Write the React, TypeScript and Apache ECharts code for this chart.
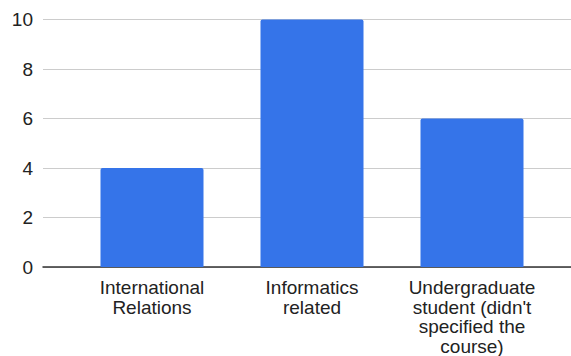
import React, { useEffect, useRef } from "react";
import * as echarts from "echarts";

const categories = [
  "International\nRelations",
  "Informatics\nrelated",
  "Undergraduate\nstudent (didn't\nspecified the\ncourse)",
];
const counts = [4, 10, 6];
const yTicks = { min: 0, max: 10, interval: 2 };

const FONT = "'Liberation Sans', Arial, sans-serif";
const TEXT = "#222222";

export default function App() {
  const ref = useRef<HTMLDivElement>(null);

  useEffect(() => {
    if (!ref.current) return;
    const chart = echarts.init(ref.current, null, { renderer: "svg" });
    const top = 19.5;
    const bottom = 89;
    chart.setOption({
      animation: false,
      grid: [
        // full-width grid for gridlines, y labels and baseline
        { left: 43, right: 0, top, bottom },
        // inner grid holding the category bands
        { left: 72, right: 19, top, bottom },
      ],
      xAxis: [
        {
          gridIndex: 0,
          type: "value",
          min: 0,
          max: 1,
          axisLine: { show: true, onZero: false, lineStyle: { color: "#333333", width: 1.5 } },
          axisTick: { show: false },
          axisLabel: { show: false },
          splitLine: { show: false },
        },
        {
          gridIndex: 1,
          type: "category",
          data: categories,
          axisLine: { show: false },
          axisTick: { show: false },
          axisLabel: {
            margin: 11,
            color: TEXT,
            fontFamily: FONT,
            fontSize: 19,
            lineHeight: 19.5,
            interval: 0,
            align: "center",
          },
        },
      ],
      yAxis: [
        {
          gridIndex: 0,
          type: "value",
          min: yTicks.min,
          max: yTicks.max,
          interval: yTicks.interval,
          axisLine: { show: false },
          axisTick: { show: false },
          axisLabel: { margin: 10, color: TEXT, fontFamily: FONT, fontSize: 19 },
          splitLine: { show: true, lineStyle: { color: "#cccccc", width: 1 } },
        },
        {
          gridIndex: 1,
          type: "value",
          min: yTicks.min,
          max: yTicks.max,
          interval: yTicks.interval,
          show: false,
          splitLine: { show: false },
        },
      ],
      series: [
        {
          type: "bar",
          xAxisIndex: 1,
          yAxisIndex: 1,
          data: counts,
          barWidth: 103,
          itemStyle: { color: "#3574e9", borderRadius: [2, 2, 0, 0] },
          z: 1,
        },
      ],
    });
    return () => chart.dispose();
  }, []);

  return <div ref={ref} style={{ width: 571, height: 356, position: "absolute", left: 0, top: 0 }} />;
}
